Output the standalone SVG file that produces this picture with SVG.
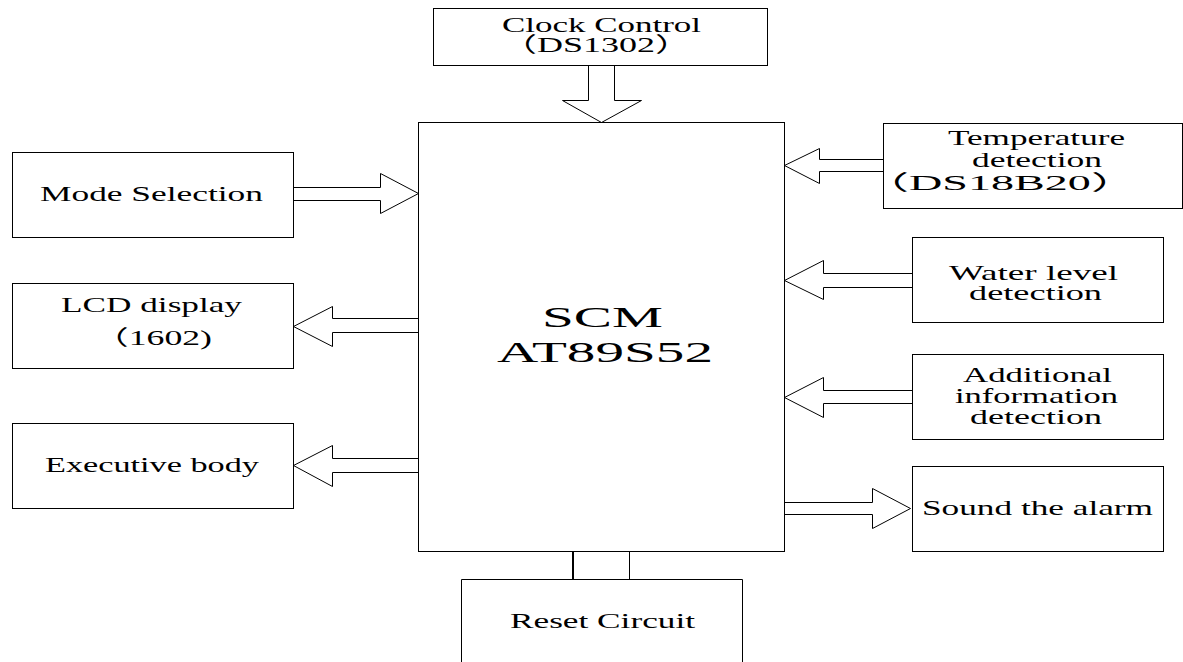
<svg xmlns="http://www.w3.org/2000/svg" width="1183" height="662" viewBox="0 0 1183 662">
<style>
.box{fill:#fff;stroke:#000;stroke-width:1}
.arr{fill:#fff;stroke:#000;stroke-width:1;stroke-linejoin:miter}
.t{font-family:"Liberation Serif","Times New Roman","Noto Sans CJK SC",serif;font-size:21px;fill:#000}
.big{font-family:"Liberation Serif","Times New Roman",serif;font-size:30px;fill:#000}
</style>
<rect width="1183" height="662" fill="#fff"/>
<g id="connectors">
<polygon class="arr" points="588.5,65.5 614.5,65.5 614.5,100.5 641.5,100.5 601.5,122.5 562.5,100.5 588.5,100.5"/>
<polygon class="arr" points="293.5,187.5 380.5,187.5 380.5,173.5 418.5,193.5 380.5,213.5 380.5,200.5 293.5,200.5"/>
<polygon class="arr" points="418.5,318.5 332.5,318.5 332.5,306.5 293.5,326.5 332.5,346.5 332.5,332.5 418.5,332.5"/>
<polygon class="arr" points="418.5,458.5 332.5,458.5 332.5,445.5 293.5,465.5 332.5,486.5 332.5,472.5 418.5,472.5"/>
<polygon class="arr" points="883.5,159.5 819.5,159.5 819.5,148.5 784.5,165.5 819.5,183.5 819.5,171.5 883.5,171.5"/>
<polygon class="arr" points="912.5,273.5 823.5,273.5 823.5,260.5 784.5,280.5 823.5,299.5 823.5,287.5 912.5,287.5"/>
<polygon class="arr" points="912.5,390.5 823.5,390.5 823.5,377.5 784.5,397.5 823.5,417.5 823.5,403.5 912.5,403.5"/>
<polygon class="arr" points="784.5,502.5 872.5,502.5 872.5,488.5 910.5,508.5 872.5,528.5 872.5,514.5 784.5,514.5"/>
<line x1="573" y1="551" x2="573" y2="579" stroke="#000" stroke-width="2"/>
<line x1="629.5" y1="551" x2="629.5" y2="579" stroke="#000" stroke-width="1"/>
</g>
<g id="scm">
<rect class="box" x="418.5" y="122.5" width="366" height="429"/>
<text class="big" x="542" y="327" textLength="121" lengthAdjust="spacingAndGlyphs">SCM</text>
<text class="big" x="497" y="362" textLength="216" lengthAdjust="spacingAndGlyphs">AT89S52</text>
</g>
<g id="clock">
<rect class="box" x="433.5" y="8.5" width="334" height="57"/>
<text class="t" x="502" y="32" textLength="199" lengthAdjust="spacingAndGlyphs">Clock Control</text>
<text class="t" x="501" y="52" textLength="190" lengthAdjust="spacingAndGlyphs">（DS1302）</text>
</g>
<g id="mode">
<rect class="box" x="12.5" y="152.5" width="281" height="85"/>
<text class="t" x="40" y="201" textLength="223" lengthAdjust="spacingAndGlyphs">Mode Selection</text>
</g>
<g id="lcd">
<rect class="box" x="12.5" y="283.5" width="281" height="85"/>
<text class="t" x="61" y="312" textLength="181" lengthAdjust="spacingAndGlyphs">LCD display</text>
<text class="t" x="93" y="345" textLength="119" lengthAdjust="spacingAndGlyphs">（1602)</text>
</g>
<g id="exec">
<rect class="box" x="12.5" y="423.5" width="281" height="85"/>
<text class="t" x="45" y="472" textLength="214" lengthAdjust="spacingAndGlyphs">Executive body</text>
</g>
<g id="temp">
<rect class="box" x="883.5" y="123.5" width="299" height="85"/>
<text class="t" x="948" y="145" textLength="177" lengthAdjust="spacingAndGlyphs">Temperature</text>
<text class="t" x="972" y="167" textLength="130" lengthAdjust="spacingAndGlyphs">detection</text>
<text class="t" x="863" y="190" textLength="274" lengthAdjust="spacingAndGlyphs">（DS18B20）</text>
</g>
<g id="water">
<rect class="box" x="912.5" y="237.5" width="251" height="85"/>
<text class="t" x="949" y="280" textLength="169" lengthAdjust="spacingAndGlyphs">Water level</text>
<text class="t" x="969" y="300" textLength="133" lengthAdjust="spacingAndGlyphs">detection</text>
</g>
<g id="additional">
<rect class="box" x="912.5" y="354.5" width="251" height="85"/>
<text class="t" x="963" y="382" textLength="149" lengthAdjust="spacingAndGlyphs">Additional</text>
<text class="t" x="955" y="403" textLength="163" lengthAdjust="spacingAndGlyphs">information</text>
<text class="t" x="970" y="424" textLength="132" lengthAdjust="spacingAndGlyphs">detection</text>
</g>
<g id="alarm">
<rect class="box" x="912.5" y="466.5" width="251" height="85"/>
<text class="t" x="922" y="515" textLength="231" lengthAdjust="spacingAndGlyphs">Sound the alarm</text>
</g>
<g id="reset">
<path class="box" d="M461.5,670 V579.5 H742.5 V670"/>
<text class="t" x="510" y="628" textLength="185" lengthAdjust="spacingAndGlyphs">Reset Circuit</text>
</g>
</svg>
